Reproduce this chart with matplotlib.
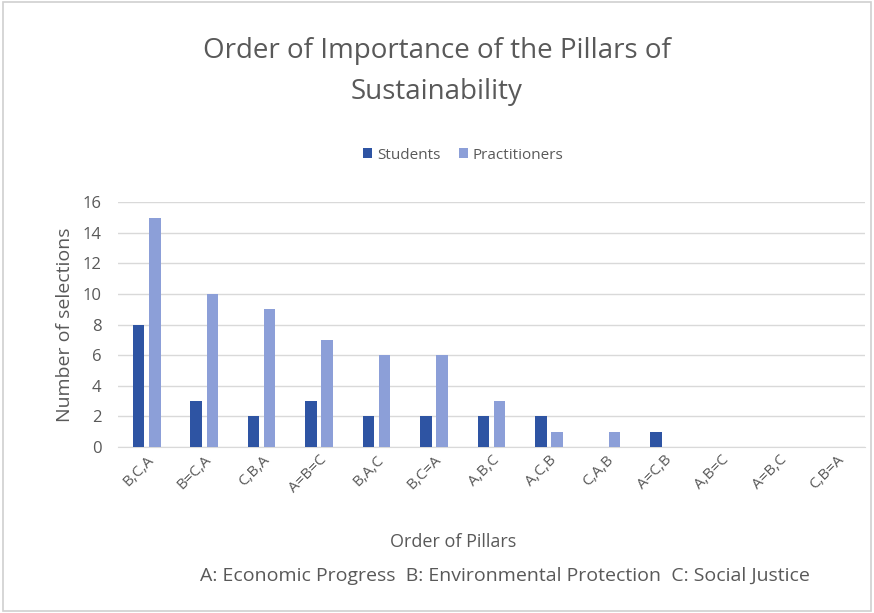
import matplotlib
matplotlib.use("Agg")
import matplotlib.pyplot as plt
import numpy as np
from matplotlib.patches import Rectangle

categories = ["B,C,A", "B=C,A", "C,B,A", "A=B=C", "B,A,C", "B,C=A", "A,B,C",
              "A,C,B", "C,A,B", "A=C,B", "A,B=C", "A=B,C", "C,B=A"]
students = [8, 3, 2, 3, 2, 2, 2, 2, 0, 1, 0, 0, 0]
practitioners = [15, 10, 9, 7, 6, 6, 3, 1, 1, 0, 0, 0, 0]

plt.rcParams['font.family'] = ['Open Sans', 'DejaVu Sans']
txt = '#595959'
c_stu = '#2E54A3'
c_pra = '#8C9FD8'

fig = plt.figure(figsize=(8.74, 6.13), dpi=100)
fig.patches.append(Rectangle((0.004, 0.004), 0.992, 0.992, transform=fig.transFigure,
                             fill=False, edgecolor='#D0D0D0', linewidth=1.2))
ax = fig.add_axes([0.135, 0.271, 0.855, 0.399])
x = np.arange(len(categories))
w = 0.2
ax.bar(x - 0.14, students, w, color=c_stu, label='Students', zorder=3)
ax.bar(x + 0.14, practitioners, w, color=c_pra, label='Practitioners', zorder=3)
ax.set_xlim(-0.5, len(categories) - 0.5)
ax.set_ylim(0, 16)
ax.set_yticks(range(0, 17, 2))
ax.yaxis.grid(True, color='#D9D9D9', linewidth=1)
ax.set_axisbelow(True)
for s in ['top', 'right', 'left']:
    ax.spines[s].set_visible(False)
ax.spines['bottom'].set_color('#D9D9D9')
ax.tick_params(axis='both', length=0, colors=txt)
ax.tick_params(axis='y', pad=12, labelsize=12)
ax.tick_params(axis='x', pad=4)
ax.set_xticks(x)
ax.set_xticklabels(categories, rotation=45, ha='right', rotation_mode='anchor', fontsize=11)
ax.set_ylabel('Number of selections', color=txt, fontsize=14, labelpad=6)
fig.text(0.518, 0.108, 'Order of Pillars', color=txt, fontsize=13, ha='center')
fig.text(0.578, 0.052, 'A: Economic Progress  B: Environmental Protection  C: Social Justice',
         color=txt, fontsize=14, ha='center')
fig.text(0.5, 0.905, 'Order of Importance of the Pillars of', color=txt, fontsize=20, ha='center')
fig.text(0.5, 0.838, 'Sustainability', color=txt, fontsize=20, ha='center')
fig.legend(loc='center', bbox_to_anchor=(0.53, 0.747), ncol=2, frameon=False,
           fontsize=11, labelcolor=txt, handlelength=0.6, handleheight=0.6,
           columnspacing=1.2, handletextpad=0.3)
fig.savefig('out.png', dpi=100)
